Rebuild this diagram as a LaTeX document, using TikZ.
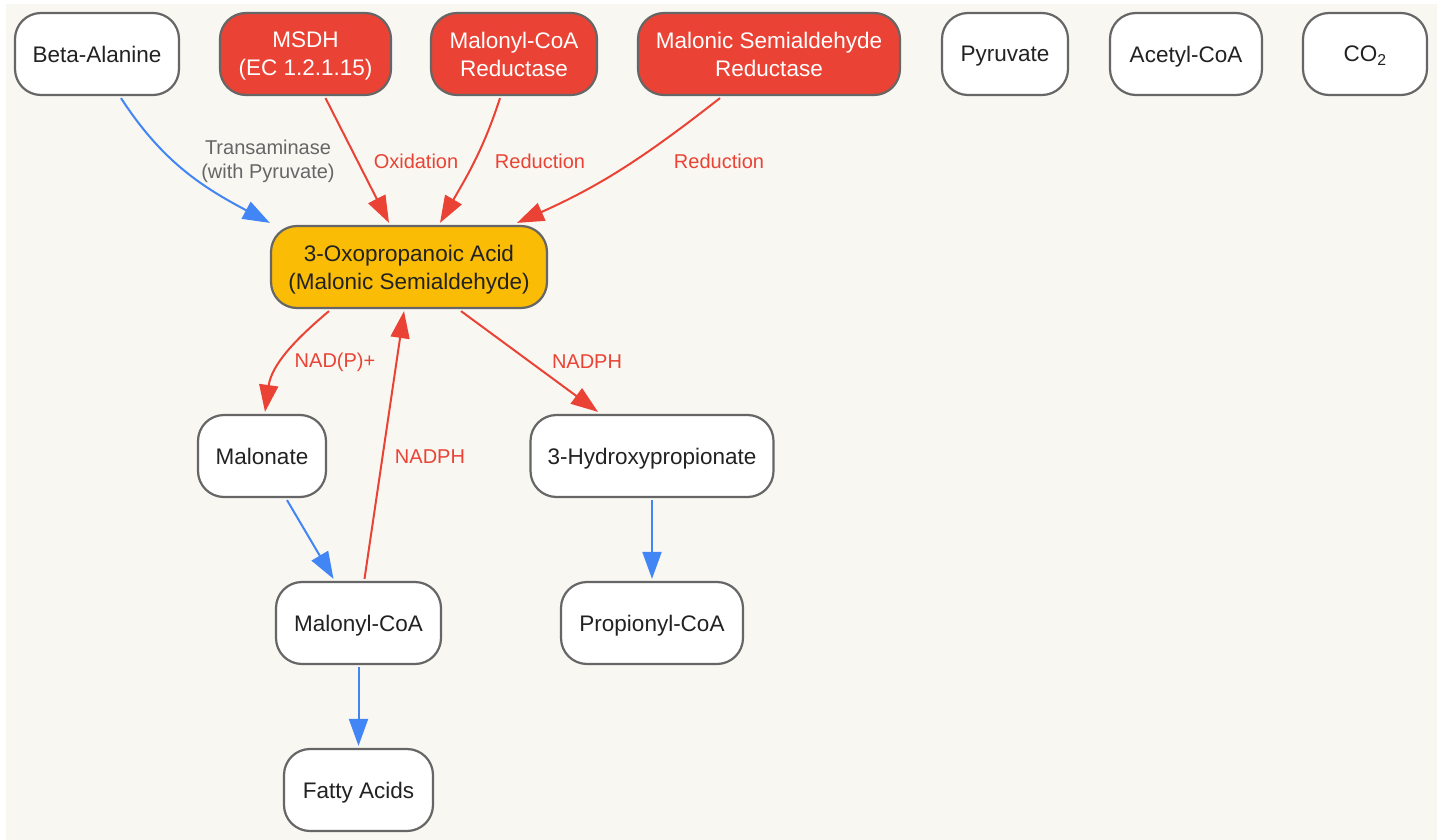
\documentclass[tikz,border=0pt]{standalone}
\usepackage{fontspec}
\setmainfont{Liberation Sans}
\usetikzlibrary{arrows.meta}
\definecolor{paper}{HTML}{F8F7F2}
\definecolor{gred}{HTML}{EA4335}
\definecolor{gblue}{HTML}{4285F4}
\definecolor{gyellow}{HTML}{FBBC05}
\definecolor{rim}{HTML}{666666}
\definecolor{ink}{HTML}{222222}
\tikzset{
  box/.style={draw=rim, line width=2.2pt, rounded corners=26pt, fill=white, text=ink,
    minimum height=82pt, inner xsep=8pt, text depth=0pt, align=center,
    font=\fontsize{22.5}{28}\selectfont},
  enzyme/.style={box, fill=gred, text=white},
  hub/.style={box, fill=gyellow},
  tip/.style={-{Triangle[length=27pt,width=19pt]}},
  flow/.style={tip, gblue, line width=2pt},
  react/.style={tip, gred, line width=2pt},
  lbl/.style={font=\fontsize{20}{24}\selectfont, text=gred, align=center},
}

\begin{document}
\begin{tikzpicture}[x=1pt,y=-1pt]
  \useasboundingbox (0,0) rectangle (1443,840);
  \fill[white] (0,0) rectangle (1443,840);
  \fill[paper] (6,4) rectangle (1437,840);
  % top row
  \node[box, minimum width=164pt] (beta) at (97,54) {Beta-Alanine};
  \node[enzyme, minimum width=171pt] (msdh) at (305.5,54) {MSDH\\(EC 1.2.1.15)};
  \node[enzyme, minimum width=166pt] (mcr) at (514,54) {Malonyl-CoA\\Reductase};
  \node[enzyme, minimum width=262pt] (msr) at (769,54) {Malonic Semialdehyde\\Reductase};
  \node[box, minimum width=126pt] (pyr) at (1005,54) {Pyruvate};
  \node[box, minimum width=152pt] (acoa) at (1186,54) {Acetyl-CoA};
  \node[box, minimum width=124pt] (co2) at (1365,54) {CO\textsubscript{2}};
  % middle
  \node[hub, minimum width=276pt] (oxo) at (409,267) {3-Oxopropanoic Acid\\(Malonic Semialdehyde)};
  \node[box, minimum width=128pt] (malo) at (262,456) {Malonate};
  \node[box, minimum width=243pt] (hp) at (652,456) {3-Hydroxypropionate};
  \node[box, minimum width=165pt] (mcoa) at (358.5,623) {Malonyl-CoA};
  \node[box, minimum width=182pt] (pcoa) at (652,623) {Propionyl-CoA};
  \node[box, minimum width=149pt] (fatty) at (358.5,790) {Fatty Acids};

  \draw[flow] ([xshift=24pt,yshift=-2pt]beta.south) to[out=-57,in=152] ([yshift=2pt]oxo.north west);
  \node[lbl, text=rim] (tlbl) at (268,161) {Transaminase\\(with Pyruvate)};
  \draw[react] ([xshift=20pt,yshift=-2pt]msdh.south) -- ([xshift=-20pt,yshift=2pt]oxo.north);
  \node[lbl] (olbl) at (416,161) {Oxidation};
  \draw[react] ([xshift=-14pt,yshift=-2pt]mcr.south) to[out=-108,in=60] ([xshift=31pt,yshift=2pt]oxo.north);
  \node[lbl] (r1lbl) at (540,161) {Reduction};
  \draw[react] ([xshift=-49pt,yshift=-2pt]msr.south) to[out=-142,in=24] ([xshift=108pt,yshift=2pt]oxo.north);
  \node[lbl] (r2lbl) at (719,161) {Reduction};

  \draw[react] ([xshift=-80pt,yshift=-2pt]oxo.south) to[out=-140,in=82] ([xshift=3pt,yshift=2pt]malo.north);
  \node[lbl] (nlbl) at (335,362) {NAD(P)+};
  \draw[react] ([xshift=52pt,yshift=-2pt]oxo.south) -- ([xshift=-54pt,yshift=2pt]hp.north);
  \node[lbl] (h1lbl) at (587,362) {NADPH};
  \draw[flow] ([xshift=25pt,yshift=-2pt]malo.south) -- ([xshift=-25pt,yshift=2pt]mcoa.north);
  \draw[react] ([xshift=6pt,yshift=2pt]mcoa.north) -- ([xshift=-5pt,yshift=-2pt]oxo.south);
  \node[lbl] (h2lbl) at (430,457) {NADPH};
  \draw[flow] ([yshift=-2pt]hp.south) -- ([yshift=2pt]pcoa.north);
  \draw[flow] ([yshift=-2pt]mcoa.south) -- ([yshift=2pt]fatty.north);
\end{tikzpicture}
\end{document}
